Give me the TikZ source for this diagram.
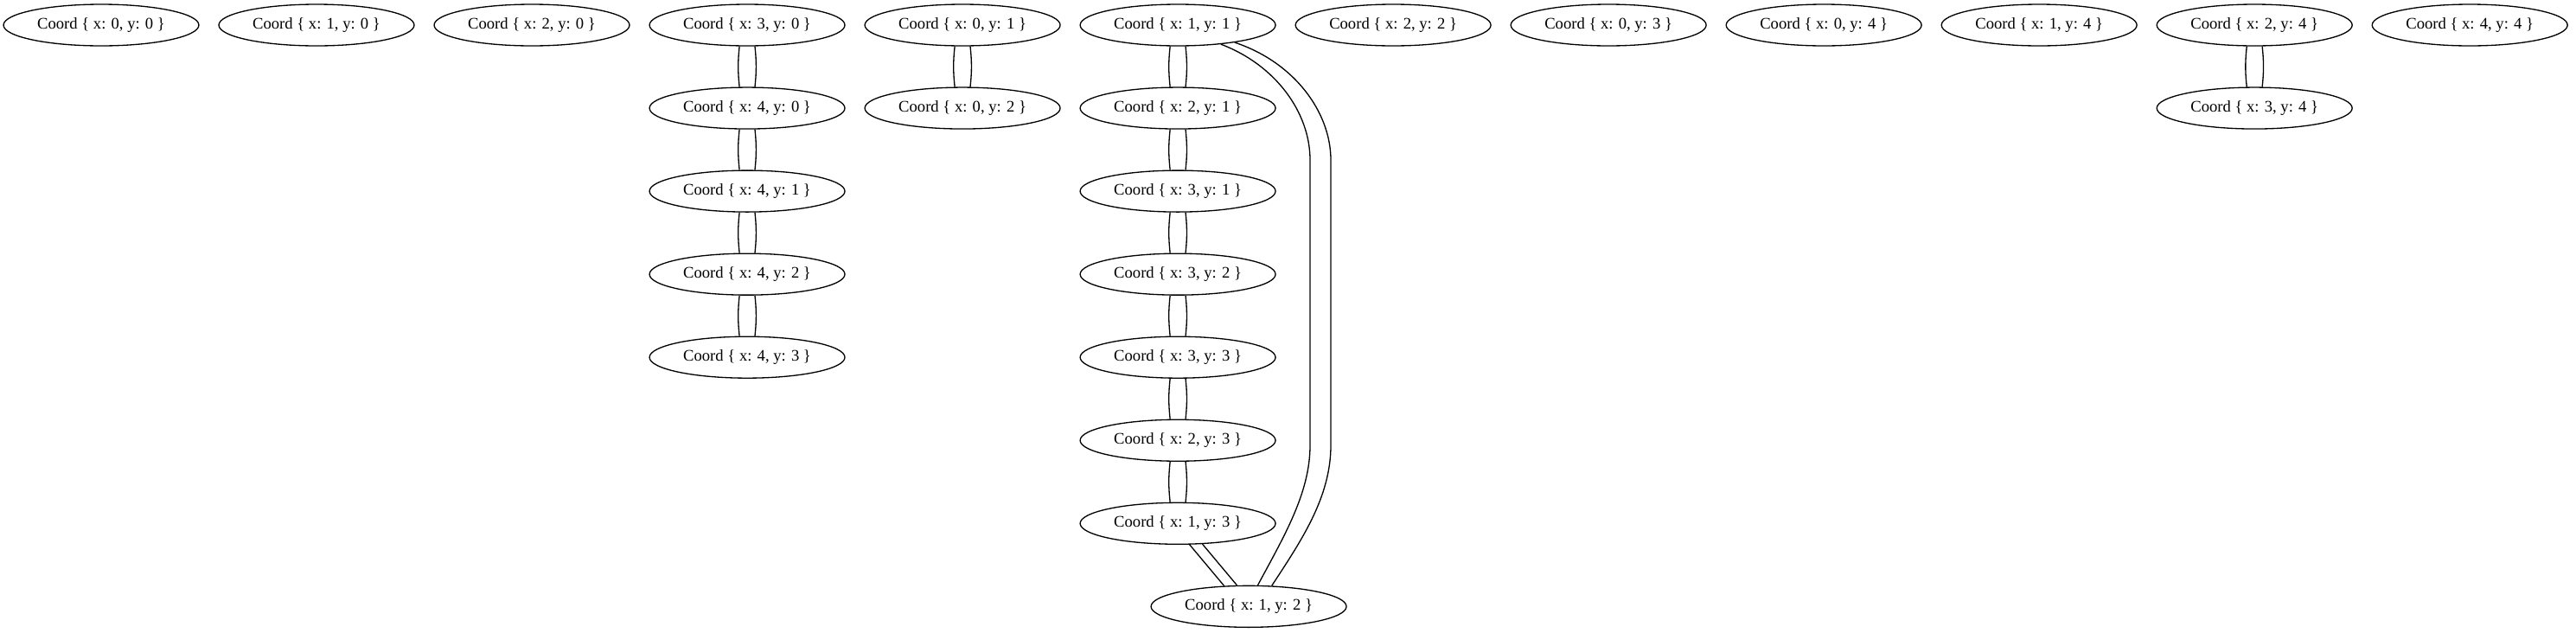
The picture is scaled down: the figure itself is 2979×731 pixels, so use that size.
\documentclass[tikz,border=0pt]{standalone}
\usepackage{fontspec}
\setmainfont{Liberation Serif}
\usetikzlibrary{shapes.geometric, positioning}

\begin{document}
\begin{tikzpicture}[
  x=0.02cm, y=-0.02cm, line width=0.75pt,
  coord/.style={ellipse, draw, minimum width=4.52cm, minimum height=0.96cm,
                inner sep=0pt, font=\fontsize{10.6}{12.7}\selectfont},
  link/.style={line width=0.75pt}
]
\useasboundingbox (0,0) rectangle (2979,731);

% top row
\node[coord] (c00) at (117,29) {Coord \{ x: 0, y: 0 \}};
\node[coord, right=0.435cm of c00] (c10) {Coord \{ x: 1, y: 0 \}};
\node[coord, right=0.435cm of c10] (c20) {Coord \{ x: 2, y: 0 \}};
\node[coord, right=0.435cm of c20] (c30) {Coord \{ x: 3, y: 0 \}};
\node[coord, right=0.435cm of c30] (c01) {Coord \{ x: 0, y: 1 \}};
\node[coord, right=0.435cm of c01] (c11) {Coord \{ x: 1, y: 1 \}};
\node[coord, right=0.435cm of c11] (c22) {Coord \{ x: 2, y: 2 \}};
\node[coord, right=0.435cm of c22] (c03) {Coord \{ x: 0, y: 3 \}};
\node[coord, right=0.435cm of c03] (c04) {Coord \{ x: 0, y: 4 \}};
\node[coord, right=0.435cm of c04] (c14) {Coord \{ x: 1, y: 4 \}};
\node[coord, right=0.435cm of c14] (c24) {Coord \{ x: 2, y: 4 \}};
\node[coord, right=0.435cm of c24] (c44) {Coord \{ x: 4, y: 4 \}};

% columns below
\node[coord, below=0.935cm of c30] (c40) {Coord \{ x: 4, y: 0 \}};
\node[coord, below=0.935cm of c40] (c41) {Coord \{ x: 4, y: 1 \}};
\node[coord, below=0.935cm of c41] (c42) {Coord \{ x: 4, y: 2 \}};
\node[coord, below=0.935cm of c42] (c43) {Coord \{ x: 4, y: 3 \}};

\node[coord, below=0.935cm of c01] (c02) {Coord \{ x: 0, y: 2 \}};

\node[coord, below=0.935cm of c11] (c21) {Coord \{ x: 2, y: 1 \}};
\node[coord, below=0.935cm of c21] (c31) {Coord \{ x: 3, y: 1 \}};
\node[coord, below=0.935cm of c31] (c32) {Coord \{ x: 3, y: 2 \}};
\node[coord, below=0.935cm of c32] (c33) {Coord \{ x: 3, y: 3 \}};
\node[coord, below=0.935cm of c33] (c23) {Coord \{ x: 2, y: 3 \}};
\node[coord, below=0.935cm of c23] (c13) {Coord \{ x: 1, y: 3 \}};
\node[coord, below=0.935cm of c13, xshift=1.64cm] (c12) {Coord \{ x: 1, y: 2 \}};

\node[coord, below=0.935cm of c24] (c34) {Coord \{ x: 3, y: 4 \}};

% every edge is drawn twice
\foreach \a/\b in {c30/c40, c40/c41, c41/c42, c42/c43, c01/c02,
                   c11/c21, c21/c31, c31/c32, c32/c33, c33/c23, c23/c13,
                   c24/c34} {
  \draw[link] (\a.-110) to[bend right=6] (\b.110);
  \draw[link] (\a.-70) to[bend left=6] (\b.70);
}

\draw[link] (c13.-61) -- (c12.140);
\draw[link] (c13.-40) -- (c12.119);

\draw[link] (c11.-24) .. controls (1475,75) and (1515,130) .. (1515,185)
  -- (1515,515) .. controls (1515,570) and (1485,620) .. (c12.67);
\draw[link] (c11.-17) .. controls (1497,72) and (1539,130) .. (1539,185)
  -- (1539,515) .. controls (1539,575) and (1505,625) .. (c12.42);
\end{tikzpicture}
\end{document}
